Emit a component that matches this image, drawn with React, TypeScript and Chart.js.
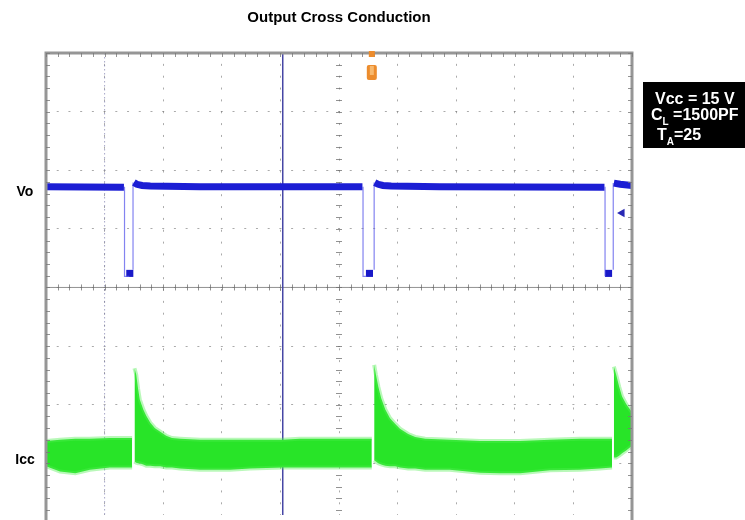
import React, { useEffect, useRef } from 'react';
import { Chart, registerables } from 'chart.js';

Chart.register(...registerables);

const FONT = 'Arial, "Liberation Sans", Helvetica, sans-serif';
const TITLE = 'Output Cross Conduction';

// oscilloscope screen, in divisions
const X_MIN = 0;
const X_MAX = 10;
const Y_MIN = -3.882;
const Y_MAX = 4;
const X_GRID = [0, 1, 2, 3, 4, 5, 6, 7, 8, 9, 10];
const Y_GRID = [-3, -2, -1, 0, 1, 2, 3, 4];
const CURSOR_X = 4.04;
const TRIGGER_X = 5.56;
const DENSE_GRID_X = 1;

// Vo trace (thick high band, gaps at the pulses)
const voX = [0, 1.33, 1.42, 1.5, 1.55, 1.64, 1.78, 2.63, 5.4, 5.5, 5.61, 5.67, 5.75, 5.89, 6.72, 9.53, 9.6, 9.69, 9.8, 10];
const voY = [1.72, 1.71, null, 1.79, 1.76, 1.74, 1.73, 1.72, 1.72, null, 1.79, 1.76, 1.74, 1.73, 1.72, 1.71, null, 1.78, 1.76, 1.74];

// Vo pulse edges (thin falling / rising lines)
const voEdgeX = [1.34, 1.34, 1.42, 1.45, 1.485, 1.485, 3, 5.41, 5.41, 5.47, 5.5, 5.6, 5.6, 7, 9.54, 9.54, 9.6, 9.68, 9.68];
const voEdgeY = [1.72, 0.19, 0.19, null, 0.3, 1.79, null, 1.72, 0.19, 0.19, null, 0.3, 1.79, null, 1.72, 0.19, null, 0.3, 1.78];

// Vo low level dwell
const voLowX = [1.43, 5.52, 9.6];
const voLowY = [0.24, 0.24, 0.24];

// Icc trace envelope (noisy band)
const iccX = [
  0, 0.24, 0.5, 0.75, 1.09, 1.47, 1.49,
  1.51, 1.54, 1.57, 1.6, 1.66, 1.71, 1.78, 1.86, 1.95, 2.05, 2.15, 2.29, 2.63, 3.14, 3.48, 4.04, 4.33, 4.85, 5.36, 5.56, 5.58,
  5.6, 5.63, 5.67, 5.72, 5.79, 5.87, 5.96, 6.04, 6.18, 6.3, 6.47, 6.89, 7.41, 7.75, 8.09, 8.6, 9.11, 9.45, 9.66, 9.68,
  9.69, 9.73, 9.78, 9.83, 9.9, 10,
];
const iccTop = [
  -2.62, -2.6, -2.58, -2.58, -2.57, -2.57, null,
  -1.38, -1.49, -1.72, -1.91, -2.08, -2.19, -2.31, -2.4, -2.46, -2.53, -2.57, -2.58, -2.6, -2.6, -2.6, -2.6, -2.58, -2.58, -2.58, -2.58, null,
  -1.32, -1.49, -1.69, -1.89, -2.08, -2.23, -2.33, -2.41, -2.5, -2.55, -2.58, -2.6, -2.62, -2.62, -2.62, -2.6, -2.58, -2.58, -2.58, null,
  -1.35, -1.49, -1.69, -1.86, -1.99, -2.13,
];
const iccBot = [
  -3.05, -3.14, -3.17, -3.11, -3.07, -3.07, null,
  -2.97, -2.99, -3.0, -3.0, -3.02, -3.04, -3.04, -3.05, -3.05, -3.07, -3.07, -3.09, -3.11, -3.11, -3.09, -3.07, -3.07, -3.07, -3.07, -3.07, null,
  -2.95, -2.97, -3.0, -3.02, -3.04, -3.05, -3.05, -3.07, -3.09, -3.09, -3.11, -3.11, -3.16, -3.17, -3.17, -3.12, -3.11, -3.09, -3.07, null,
  -2.9, -2.9, -2.87, -2.83, -2.78, -2.7,
];

// channel marker arrow
const markerX = [9.83];
const markerY = [1.27];

const TRACE_LABELS = ['Vo', 'Icc'];
const TRACE_LABEL_Y = [1.62, -2.94];

const NOTE_LINES = [
  { main: 'Vcc = 15 V', sub: '', rest: '' },
  { main: 'C', sub: 'L', rest: ' =1500PF' },
  { main: 'T', sub: 'A', rest: '=25' },
];

const pts = (xs: number[], ys: (number | null)[]) => xs.map((x, i) => ({ x, y: ys[i] }));

const scopePlugin = {
  id: 'scopeDecor',
  beforeDatasetsDraw(chart: any) {
    const { ctx, chartArea: a, scales } = chart;
    const xs = scales.x;
    const ys = scales.y;
    ctx.save();
    // dense dotted vertical line
    const dx = xs.getPixelForValue(DENSE_GRID_X);
    ctx.strokeStyle = 'rgba(120,120,170,0.65)';
    ctx.lineWidth = 1;
    ctx.setLineDash([1.5, 2.5]);
    ctx.beginPath();
    ctx.moveTo(dx, a.top);
    ctx.lineTo(dx, a.bottom);
    ctx.stroke();
    ctx.setLineDash([]);
    // horizontal centre axis
    const cy = ys.getPixelForValue(0);
    ctx.strokeStyle = 'rgba(110,110,110,0.75)';
    ctx.beginPath();
    ctx.moveTo(a.left, cy);
    ctx.lineTo(a.right, cy);
    ctx.stroke();
    ctx.beginPath();
    for (let v = X_MIN; v <= X_MAX + 1e-6; v += 0.2) {
      const px = Math.round(xs.getPixelForValue(v)) + 0.5;
      ctx.moveTo(px, cy - 3);
      ctx.lineTo(px, cy + 3);
    }
    // vertical centre axis ticks
    const cx = xs.getPixelForValue(5);
    for (let v = Y_MAX; v >= Y_MIN; v -= 0.2) {
      const py = Math.round(ys.getPixelForValue(v)) + 0.5;
      ctx.moveTo(cx - 3, py);
      ctx.lineTo(cx + 3, py);
    }
    ctx.stroke();
    // cursor line
    const ux = xs.getPixelForValue(CURSOR_X);
    ctx.strokeStyle = 'rgb(70,70,165)';
    ctx.lineWidth = 1.5;
    ctx.beginPath();
    ctx.moveTo(ux, a.top);
    ctx.lineTo(ux, a.bottom);
    ctx.stroke();
    ctx.restore();
  },
  afterDraw(chart: any) {
    const { ctx, chartArea: a, scales, width } = chart;
    const xs = scales.x;
    const ys = scales.y;
    ctx.save();
    // frame
    ctx.strokeStyle = 'rgb(150,150,150)';
    ctx.lineWidth = 3;
    ctx.beginPath();
    ctx.moveTo(a.left, a.bottom + 5);
    ctx.lineTo(a.left, a.top);
    ctx.lineTo(a.right, a.top);
    ctx.lineTo(a.right, a.bottom + 5);
    ctx.stroke();
    ctx.strokeStyle = 'rgba(120,120,120,0.8)';
    ctx.lineWidth = 1;
    ctx.beginPath();
    for (let v = X_MIN; v <= X_MAX + 1e-6; v += 0.2) {
      const px = Math.round(xs.getPixelForValue(v)) + 0.5;
      ctx.moveTo(px, a.top);
      ctx.lineTo(px, a.top + 4);
    }
    for (let v = Y_MAX; v >= Y_MIN; v -= 0.2) {
      const py = Math.round(ys.getPixelForValue(v)) + 0.5;
      ctx.moveTo(a.left, py);
      ctx.lineTo(a.left + 4, py);
      ctx.moveTo(a.right, py);
      ctx.lineTo(a.right - 4, py);
    }
    ctx.stroke();

    // trigger marker
    const tx = xs.getPixelForValue(TRIGGER_X);
    ctx.fillStyle = 'rgb(236,140,45)';
    ctx.fillRect(tx - 3, a.top - 2, 6, 6);
    ctx.beginPath();
    ctx.roundRect(tx - 5, a.top + 12, 10, 15, 2);
    ctx.fill();
    ctx.fillStyle = 'rgb(248,185,110)';
    ctx.fillRect(tx - 2, a.top + 13, 4, 9);

    // trace labels
    ctx.fillStyle = '#000';
    ctx.font = `bold 14px ${FONT}`;
    ctx.textAlign = 'center';
    ctx.textBaseline = 'middle';
    TRACE_LABELS.forEach((t, i) => {
      ctx.fillText(t, a.left - 21, ys.getPixelForValue(TRACE_LABEL_Y[i]));
    });

    // condition note box
    const bx = a.right + 11;
    const by = a.top + 29;
    ctx.fillStyle = '#000';
    ctx.fillRect(bx, by, width - bx, 66);
    ctx.fillStyle = '#fff';
    ctx.textAlign = 'left';
    ctx.textBaseline = 'alphabetic';
    const starts = [bx + 12, bx + 8, bx + 14];
    const bases = [by + 22, by + 38, by + 58];
    NOTE_LINES.forEach((ln, i) => {
      let cxp = starts[i];
      ctx.font = `bold 16px ${FONT}`;
      ctx.fillText(ln.main, cxp, bases[i]);
      cxp += ctx.measureText(ln.main).width;
      if (ln.sub) {
        ctx.font = `bold 10px ${FONT}`;
        ctx.fillText(ln.sub, cxp, bases[i] + 5);
        cxp += ctx.measureText(ln.sub).width;
      }
      if (ln.rest) {
        ctx.font = `bold 16px ${FONT}`;
        ctx.fillText(ln.rest, cxp, bases[i]);
      }
    });
    ctx.restore();
  },
};

export default function App() {
  const ref = useRef<HTMLCanvasElement | null>(null);

  useEffect(() => {
    if (!ref.current) return;
    const chart = new Chart(ref.current, {
      type: 'line',
      data: {
        datasets: [
          {
            label: 'Vo',
            data: pts(voX, voY),
            borderColor: 'rgb(28,30,212)',
            borderWidth: 7,
            pointRadius: 0,
            tension: 0,
            spanGaps: false,
            fill: false,
          },
          {
            label: 'Vo edges',
            data: pts(voEdgeX, voEdgeY),
            borderColor: 'rgba(90,90,235,0.75)',
            borderWidth: 1.2,
            pointRadius: 0,
            tension: 0,
            spanGaps: false,
            fill: false,
          },
          {
            label: 'Vo low',
            data: pts(voLowX, voLowY),
            showLine: false,
            pointStyle: 'rect',
            pointRadius: 5,
            pointBackgroundColor: 'rgb(25,25,200)',
            pointBorderWidth: 0,
            fill: false,
          },
          {
            label: 'marker',
            data: pts(markerX, markerY),
            showLine: false,
            pointStyle: 'triangle',
            rotation: -90,
            pointRadius: 5,
            pointBackgroundColor: 'rgb(40,40,180)',
            pointBorderWidth: 0,
            fill: false,
          },
          {
            label: 'Icc top',
            data: pts(iccX, iccTop),
            borderColor: 'rgba(80,238,80,0.4)',
            borderWidth: 4,
            pointRadius: 0,
            tension: 0,
            spanGaps: false,
            fill: false,
          },
          {
            label: 'Icc',
            data: pts(iccX, iccBot),
            borderColor: 'rgba(80,238,80,0.4)',
            borderWidth: 4,
            pointRadius: 0,
            tension: 0,
            spanGaps: false,
            fill: '-1',
            backgroundColor: 'rgb(40,228,40)',
          },
        ],
      },
      options: {
        animation: false,
        responsive: false,
        devicePixelRatio: 1,
        layout: { padding: { left: 46, right: 113, top: 0, bottom: 0 } },
        plugins: {
          legend: { display: false },
          tooltip: { enabled: false },
          title: {
            display: true,
            text: TITLE,
            color: '#000',
            font: { family: FONT, size: 15, weight: 'bold' },
            padding: { top: 9, bottom: 26 },
          },
        },
        scales: {
          x: {
            type: 'linear',
            min: X_MIN,
            max: X_MAX,
            afterBuildTicks: (s: any) => {
              s.ticks = X_GRID.map((v) => ({ value: v }));
            },
            ticks: { display: false },
            grid: { color: 'rgba(100,100,100,0.55)', lineWidth: 1, drawTicks: false },
            border: { display: false, dash: [2, 9.85], dashOffset: 1 },
          },
          y: {
            type: 'linear',
            min: Y_MIN,
            max: Y_MAX,
            afterBuildTicks: (s: any) => {
              s.ticks = Y_GRID.map((v) => ({ value: v }));
            },
            ticks: { display: false },
            grid: { color: 'rgba(100,100,100,0.55)', lineWidth: 1, drawTicks: false },
            border: { display: false, dash: [2, 9.72], dashOffset: 1 },
          },
        },
      },
      plugins: [scopePlugin],
    } as any);
    return () => chart.destroy();
  }, []);

  return (
    <canvas
      ref={ref}
      width={745}
      height={520}
      style={{ display: 'block', position: 'absolute', left: 0, top: 0 }}
    />
  );
}
